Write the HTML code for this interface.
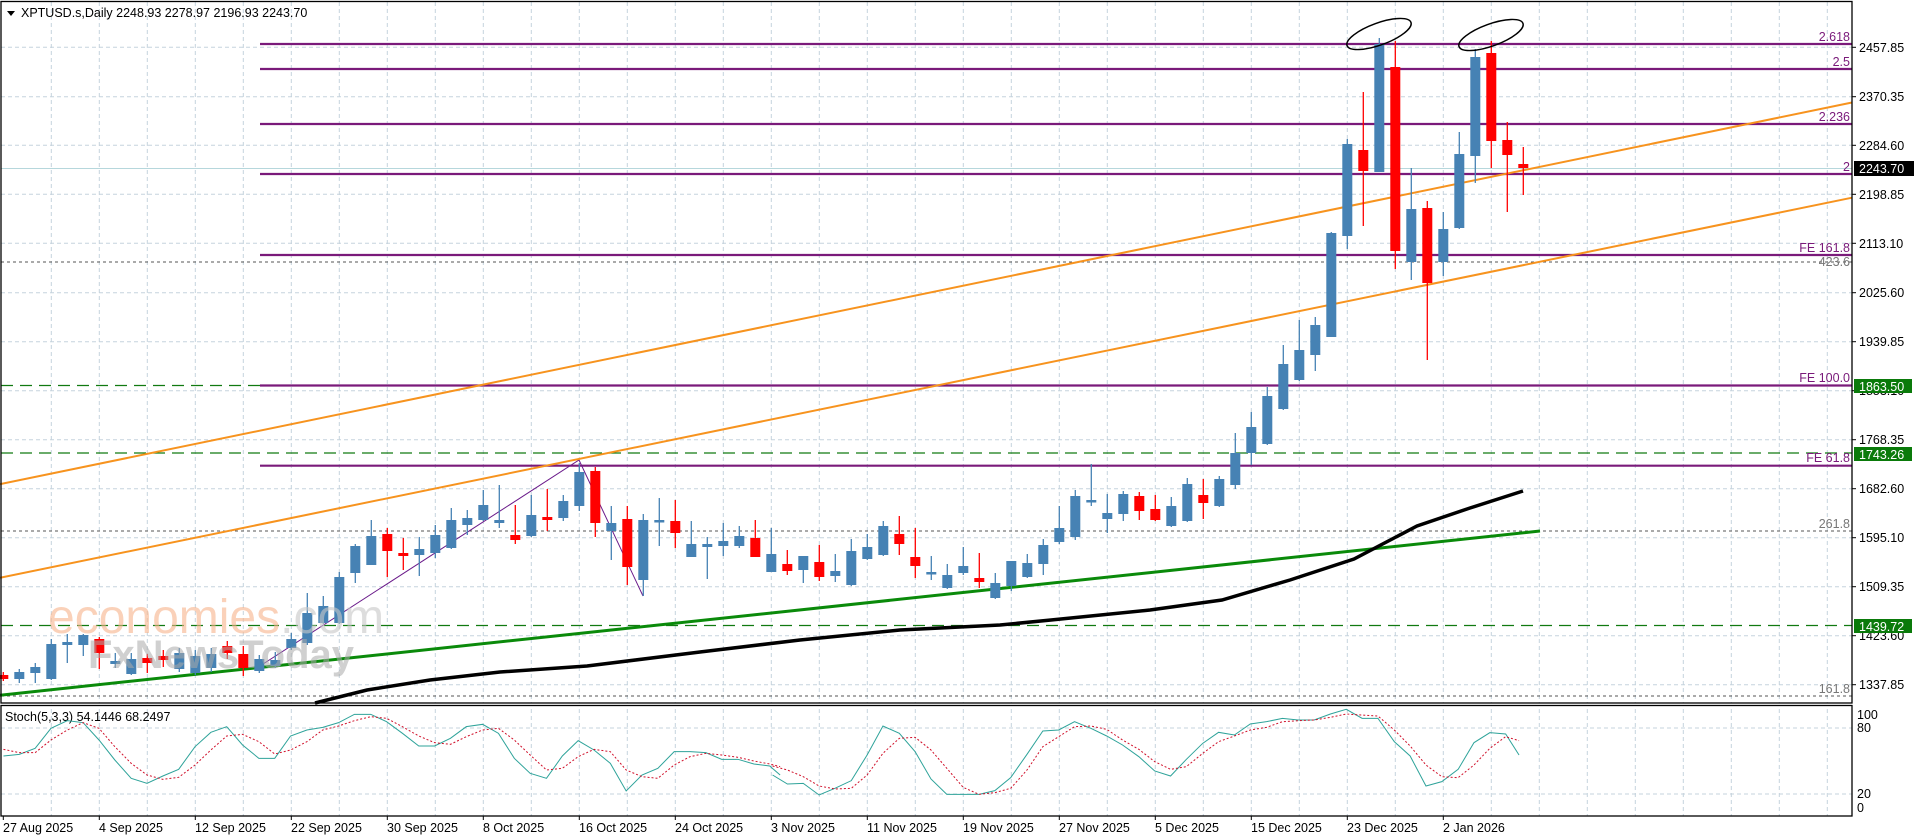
<!DOCTYPE html>
<html><head><meta charset="utf-8"><style>
html,body{margin:0;padding:0;background:#fff;}
svg{display:block;font-family:"Liberation Sans",sans-serif;}
</style></head><body>
<svg width="1916" height="840" viewBox="0 0 1916 840" xmlns="http://www.w3.org/2000/svg">
<rect width="1916" height="840" fill="#fff"/>
<!-- grid -->
<g stroke="#c5d3dd" stroke-width="1" stroke-dasharray="4,3">
<line x1="1" x2="1852" y1="47.3" y2="47.3"/><line x1="1" x2="1852" y1="96.7" y2="96.7"/><line x1="1" x2="1852" y1="145.3" y2="145.3"/><line x1="1" x2="1852" y1="194.3" y2="194.3"/><line x1="1" x2="1852" y1="243.3" y2="243.3"/><line x1="1" x2="1852" y1="292.7" y2="292.7"/><line x1="1" x2="1852" y1="341.7" y2="341.7"/><line x1="1" x2="1852" y1="390.7" y2="390.7"/><line x1="1" x2="1852" y1="439.7" y2="439.7"/><line x1="1" x2="1852" y1="488.7" y2="488.7"/><line x1="1" x2="1852" y1="537.7" y2="537.7"/><line x1="1" x2="1852" y1="586.7" y2="586.7"/><line x1="1" x2="1852" y1="635.7" y2="635.7"/><line x1="1" x2="1852" y1="684.7" y2="684.7"/>
<line x1="1" x2="1852" y1="728" y2="728"/><line x1="1" x2="1852" y1="794" y2="794"/>
</g>
<g stroke="#c5d3dd" stroke-width="1" stroke-dasharray="4,3" id="vg">
<line x1="51.3" x2="51.3" y1="2" y2="816"/><line x1="99.3" x2="99.3" y1="2" y2="816"/><line x1="147.3" x2="147.3" y1="2" y2="816"/><line x1="195.3" x2="195.3" y1="2" y2="816"/><line x1="243.3" x2="243.3" y1="2" y2="816"/><line x1="291.3" x2="291.3" y1="2" y2="816"/><line x1="339.3" x2="339.3" y1="2" y2="816"/><line x1="387.3" x2="387.3" y1="2" y2="816"/><line x1="435.3" x2="435.3" y1="2" y2="816"/><line x1="483.3" x2="483.3" y1="2" y2="816"/><line x1="531.3" x2="531.3" y1="2" y2="816"/><line x1="579.3" x2="579.3" y1="2" y2="816"/><line x1="627.3" x2="627.3" y1="2" y2="816"/><line x1="675.3" x2="675.3" y1="2" y2="816"/><line x1="723.3" x2="723.3" y1="2" y2="816"/><line x1="771.3" x2="771.3" y1="2" y2="816"/><line x1="819.3" x2="819.3" y1="2" y2="816"/><line x1="867.3" x2="867.3" y1="2" y2="816"/><line x1="915.3" x2="915.3" y1="2" y2="816"/><line x1="963.3" x2="963.3" y1="2" y2="816"/><line x1="1011.3" x2="1011.3" y1="2" y2="816"/><line x1="1059.3" x2="1059.3" y1="2" y2="816"/><line x1="1107.3" x2="1107.3" y1="2" y2="816"/><line x1="1155.3" x2="1155.3" y1="2" y2="816"/><line x1="1203.3" x2="1203.3" y1="2" y2="816"/><line x1="1251.3" x2="1251.3" y1="2" y2="816"/><line x1="1299.3" x2="1299.3" y1="2" y2="816"/><line x1="1347.3" x2="1347.3" y1="2" y2="816"/><line x1="1395.3" x2="1395.3" y1="2" y2="816"/><line x1="1443.3" x2="1443.3" y1="2" y2="816"/><line x1="1491.3" x2="1491.3" y1="2" y2="816"/><line x1="1539.3" x2="1539.3" y1="2" y2="816"/><line x1="1587.3" x2="1587.3" y1="2" y2="816"/><line x1="1635.3" x2="1635.3" y1="2" y2="816"/><line x1="1683.3" x2="1683.3" y1="2" y2="816"/><line x1="1731.3" x2="1731.3" y1="2" y2="816"/><line x1="1779.3" x2="1779.3" y1="2" y2="816"/><line x1="1827.3" x2="1827.3" y1="2" y2="816"/>
</g>
<rect x="0" y="703" width="1852" height="2" fill="#fff"/>

<!-- current price line -->
<line x1="1" x2="1852" y1="168.5" y2="168.5" stroke="#b6d7dc" stroke-width="1"/>
<!-- dotted fib lines -->
<g stroke="#555" stroke-width="1" stroke-dasharray="3,3">
<line x1="1" x2="1852" y1="262" y2="262"/><line x1="1" x2="1852" y1="531" y2="531"/><line x1="1" x2="1852" y1="696" y2="696"/>
</g>
<!-- green dashed -->
<g stroke="#117a11" stroke-width="1.3" stroke-dasharray="12,7">
<line x1="1" x2="1852" y1="385.5" y2="385.5"/><line x1="1" x2="1852" y1="453" y2="453"/><line x1="1" x2="1852" y1="625.5" y2="625.5"/>
</g>
<!-- purple fib levels -->
<g stroke="#7a1a7a" stroke-width="2.2">
<line x1="260" x2="1852" y1="44" y2="44"/><line x1="260" x2="1852" y1="69" y2="69"/><line x1="260" x2="1852" y1="124" y2="124"/><line x1="260" x2="1852" y1="174" y2="174"/><line x1="260" x2="1852" y1="255" y2="255"/><line x1="260" x2="1852" y1="385.5" y2="385.5"/><line x1="260" x2="1852" y1="465.7" y2="465.7"/>
</g>
<g fill="#7a1a7a" font-size="12.5" text-anchor="end">
<text x="1850" y="41">2.618</text><text x="1850" y="66">2.5</text><text x="1850" y="121">2.236</text><text x="1850" y="171">2</text><text x="1850" y="252">FE 161.8</text><text x="1850" y="382">FE 100.0</text><text x="1850" y="462">FE 61.8</text>
</g>
<g fill="#777" font-size="12.5" text-anchor="end">
<text x="1850" y="266">423.6</text><text x="1850" y="528">261.8</text><text x="1850" y="693">161.8</text>
</g>
<!-- zigzag -->
<polyline points="260,666 579,460 643,596" fill="none" stroke="#6a1a8a" stroke-width="1"/>
<!-- orange channel -->
<line x1="0" y1="484.2" x2="1852" y2="102.5" stroke="#f7931e" stroke-width="2"/>
<line x1="0" y1="577.8" x2="1852" y2="197.7" stroke="#f7931e" stroke-width="2"/>
<!-- green trend -->
<line x1="0" y1="695.2" x2="1540" y2="531" stroke="#0a8a0a" stroke-width="3"/>
<!-- black MA -->
<polyline points="315,703 367,690 430,680 500,672 587,666 700,652 800,640 900,630 1000,625 1051,620 1150,610 1222,600 1290,580 1354,559 1417,526 1470,508 1523,491" fill="none" stroke="#000" stroke-width="3.5"/>

<!-- candles -->
<g id="c" stroke-width="1.3">
<line x1="3.3" x2="3.3" y1="672" y2="681" stroke="#f00"/><rect x="-1.7" y="675" width="10" height="4" fill="#f00"/>
<line x1="19.3" x2="19.3" y1="669" y2="683" stroke="#4682b4"/><rect x="14.3" y="672" width="10" height="7" fill="#4682b4"/>
<line x1="35.3" x2="35.3" y1="663" y2="683" stroke="#4682b4"/><rect x="30.3" y="667" width="10" height="6" fill="#4682b4"/>
<line x1="51.3" x2="51.3" y1="639" y2="680" stroke="#4682b4"/><rect x="46.3" y="644" width="10" height="35" fill="#4682b4"/>
<line x1="67.3" x2="67.3" y1="634" y2="663" stroke="#4682b4"/><rect x="62.3" y="642" width="10" height="3" fill="#4682b4"/>
<line x1="83.3" x2="83.3" y1="634" y2="656" stroke="#4682b4"/><rect x="78.3" y="635" width="10" height="10" fill="#4682b4"/>
<line x1="99.3" x2="99.3" y1="637" y2="669" stroke="#f00"/><rect x="94.3" y="639" width="10" height="14" fill="#f00"/>
<line x1="115.3" x2="115.3" y1="653" y2="668" stroke="#4682b4"/><rect x="110.3" y="661" width="10" height="3" fill="#4682b4"/>
<line x1="131.3" x2="131.3" y1="653" y2="675" stroke="#4682b4"/><rect x="126.3" y="659" width="10" height="15" fill="#4682b4"/>
<line x1="147.3" x2="147.3" y1="654" y2="673" stroke="#f00"/><rect x="142.3" y="658" width="10" height="5" fill="#f00"/>
<line x1="163.3" x2="163.3" y1="650" y2="667" stroke="#f00"/><rect x="158.3" y="656" width="10" height="4" fill="#f00"/>
<line x1="179.3" x2="179.3" y1="648" y2="672" stroke="#4682b4"/><rect x="174.3" y="653" width="10" height="16" fill="#4682b4"/>
<line x1="195.3" x2="195.3" y1="650" y2="675" stroke="#4682b4"/><rect x="190.3" y="656" width="10" height="17" fill="#4682b4"/>
<line x1="211.3" x2="211.3" y1="648" y2="672" stroke="#4682b4"/><rect x="206.3" y="654" width="10" height="14" fill="#4682b4"/>
<line x1="227.3" x2="227.3" y1="641" y2="659" stroke="#f00"/><rect x="222.3" y="646" width="10" height="7" fill="#f00"/>
<line x1="243.3" x2="243.3" y1="646" y2="676" stroke="#f00"/><rect x="238.3" y="654" width="10" height="14" fill="#f00"/>
<line x1="259.3" x2="259.3" y1="655" y2="673" stroke="#4682b4"/><rect x="254.3" y="659" width="10" height="12" fill="#4682b4"/>
<line x1="275.3" x2="275.3" y1="652" y2="668" stroke="#4682b4"/><rect x="270.3" y="660" width="10" height="6" fill="#4682b4"/>
<line x1="291.3" x2="291.3" y1="633" y2="650" stroke="#4682b4"/><rect x="286.3" y="639" width="10" height="9" fill="#4682b4"/>
<line x1="307.3" x2="307.3" y1="593" y2="645" stroke="#4682b4"/><rect x="302.3" y="613" width="10" height="30" fill="#4682b4"/>
<line x1="323.3" x2="323.3" y1="596" y2="624" stroke="#4682b4"/><rect x="318.3" y="606" width="10" height="17" fill="#4682b4"/>
<line x1="339.3" x2="339.3" y1="572" y2="624" stroke="#4682b4"/><rect x="334.3" y="577" width="10" height="46" fill="#4682b4"/>
<line x1="355.3" x2="355.3" y1="544" y2="583" stroke="#4682b4"/><rect x="350.3" y="546" width="10" height="27" fill="#4682b4"/>
<line x1="371.3" x2="371.3" y1="520" y2="565" stroke="#4682b4"/><rect x="366.3" y="536" width="10" height="29" fill="#4682b4"/>
<line x1="387.3" x2="387.3" y1="528" y2="577" stroke="#f00"/><rect x="382.3" y="534" width="10" height="17" fill="#f00"/>
<line x1="403.3" x2="403.3" y1="538" y2="570" stroke="#f00"/><rect x="398.3" y="553" width="10" height="3" fill="#f00"/>
<line x1="419.3" x2="419.3" y1="537" y2="576" stroke="#4682b4"/><rect x="414.3" y="549" width="10" height="6" fill="#4682b4"/>
<line x1="435.3" x2="435.3" y1="525" y2="558" stroke="#4682b4"/><rect x="430.3" y="535" width="10" height="18" fill="#4682b4"/>
<line x1="451.3" x2="451.3" y1="508" y2="549" stroke="#4682b4"/><rect x="446.3" y="520" width="10" height="28" fill="#4682b4"/>
<line x1="467.3" x2="467.3" y1="510" y2="535" stroke="#4682b4"/><rect x="462.3" y="518" width="10" height="7" fill="#4682b4"/>
<line x1="483.3" x2="483.3" y1="490" y2="521" stroke="#4682b4"/><rect x="478.3" y="505" width="10" height="15" fill="#4682b4"/>
<line x1="499.3" x2="499.3" y1="485" y2="528" stroke="#4682b4"/><rect x="494.3" y="520" width="10" height="3" fill="#4682b4"/>
<line x1="515.3" x2="515.3" y1="505" y2="544" stroke="#f00"/><rect x="510.3" y="535" width="10" height="5" fill="#f00"/>
<line x1="531.3" x2="531.3" y1="495" y2="537" stroke="#4682b4"/><rect x="526.3" y="515" width="10" height="21" fill="#4682b4"/>
<line x1="547.3" x2="547.3" y1="489" y2="531" stroke="#f00"/><rect x="542.3" y="517" width="10" height="3" fill="#f00"/>
<line x1="563.3" x2="563.3" y1="495" y2="521" stroke="#4682b4"/><rect x="558.3" y="501" width="10" height="17" fill="#4682b4"/>
<line x1="579.3" x2="579.3" y1="463" y2="511" stroke="#4682b4"/><rect x="574.3" y="472" width="10" height="34" fill="#4682b4"/>
<line x1="595.3" x2="595.3" y1="467" y2="537" stroke="#f00"/><rect x="590.3" y="471" width="10" height="52" fill="#f00"/>
<line x1="611.3" x2="611.3" y1="506" y2="560" stroke="#4682b4"/><rect x="606.3" y="523" width="10" height="8" fill="#4682b4"/>
<line x1="627.3" x2="627.3" y1="506" y2="585" stroke="#f00"/><rect x="622.3" y="519" width="10" height="48" fill="#f00"/>
<line x1="643.3" x2="643.3" y1="514" y2="596" stroke="#4682b4"/><rect x="638.3" y="520" width="10" height="60" fill="#4682b4"/>
<line x1="659.3" x2="659.3" y1="498" y2="546" stroke="#4682b4"/><rect x="654.3" y="520" width="10" height="2.5" fill="#4682b4"/>
<line x1="675.3" x2="675.3" y1="500" y2="548" stroke="#f00"/><rect x="670.3" y="521" width="10" height="12" fill="#f00"/>
<line x1="691.3" x2="691.3" y1="521" y2="557" stroke="#4682b4"/><rect x="686.3" y="544" width="10" height="13" fill="#4682b4"/>
<line x1="707.3" x2="707.3" y1="537" y2="579" stroke="#4682b4"/><rect x="702.3" y="544" width="10" height="3" fill="#4682b4"/>
<line x1="723.3" x2="723.3" y1="523" y2="556" stroke="#4682b4"/><rect x="718.3" y="541" width="10" height="5" fill="#4682b4"/>
<line x1="739.3" x2="739.3" y1="526" y2="548" stroke="#4682b4"/><rect x="734.3" y="536" width="10" height="10" fill="#4682b4"/>
<line x1="755.3" x2="755.3" y1="520" y2="557" stroke="#f00"/><rect x="750.3" y="538" width="10" height="19" fill="#f00"/>
<line x1="771.3" x2="771.3" y1="528" y2="572" stroke="#4682b4"/><rect x="766.3" y="554" width="10" height="18" fill="#4682b4"/>
<line x1="787.3" x2="787.3" y1="550" y2="575" stroke="#f00"/><rect x="782.3" y="564" width="10" height="7" fill="#f00"/>
<line x1="803.3" x2="803.3" y1="556" y2="583" stroke="#4682b4"/><rect x="798.3" y="556" width="10" height="14" fill="#4682b4"/>
<line x1="819.3" x2="819.3" y1="545" y2="581" stroke="#f00"/><rect x="814.3" y="562" width="10" height="15" fill="#f00"/>
<line x1="835.3" x2="835.3" y1="554" y2="582" stroke="#4682b4"/><rect x="830.3" y="571" width="10" height="5" fill="#4682b4"/>
<line x1="851.3" x2="851.3" y1="539" y2="586" stroke="#4682b4"/><rect x="846.3" y="551" width="10" height="34" fill="#4682b4"/>
<line x1="867.3" x2="867.3" y1="534" y2="560" stroke="#4682b4"/><rect x="862.3" y="547" width="10" height="12" fill="#4682b4"/>
<line x1="883.3" x2="883.3" y1="521" y2="556" stroke="#4682b4"/><rect x="878.3" y="526" width="10" height="29" fill="#4682b4"/>
<line x1="899.3" x2="899.3" y1="516" y2="555" stroke="#f00"/><rect x="894.3" y="534" width="10" height="10" fill="#f00"/>
<line x1="915.3" x2="915.3" y1="528" y2="578" stroke="#f00"/><rect x="910.3" y="557" width="10" height="9" fill="#f00"/>
<line x1="931.3" x2="931.3" y1="556" y2="580" stroke="#4682b4"/><rect x="926.3" y="572" width="10" height="2.5" fill="#4682b4"/>
<line x1="947.3" x2="947.3" y1="564" y2="589" stroke="#4682b4"/><rect x="942.3" y="575" width="10" height="13" fill="#4682b4"/>
<line x1="963.3" x2="963.3" y1="547" y2="575" stroke="#4682b4"/><rect x="958.3" y="566" width="10" height="7" fill="#4682b4"/>
<line x1="979.3" x2="979.3" y1="553" y2="588" stroke="#f00"/><rect x="974.3" y="578" width="10" height="4" fill="#f00"/>
<line x1="995.3" x2="995.3" y1="573" y2="599" stroke="#4682b4"/><rect x="990.3" y="583" width="10" height="15" fill="#4682b4"/>
<line x1="1011.3" x2="1011.3" y1="561" y2="591" stroke="#4682b4"/><rect x="1006.3" y="561" width="10" height="25" fill="#4682b4"/>
<line x1="1027.3" x2="1027.3" y1="554" y2="578" stroke="#4682b4"/><rect x="1022.3" y="563" width="10" height="14" fill="#4682b4"/>
<line x1="1043.3" x2="1043.3" y1="539" y2="575" stroke="#4682b4"/><rect x="1038.3" y="545" width="10" height="19" fill="#4682b4"/>
<line x1="1059.3" x2="1059.3" y1="506" y2="544" stroke="#4682b4"/><rect x="1054.3" y="528" width="10" height="14" fill="#4682b4"/>
<line x1="1075.3" x2="1075.3" y1="490" y2="540" stroke="#4682b4"/><rect x="1070.3" y="496" width="10" height="41" fill="#4682b4"/>
<line x1="1091.3" x2="1091.3" y1="464" y2="506" stroke="#4682b4"/><rect x="1086.3" y="500" width="10" height="2.5" fill="#4682b4"/>
<line x1="1107.3" x2="1107.3" y1="494" y2="533" stroke="#4682b4"/><rect x="1102.3" y="513" width="10" height="6" fill="#4682b4"/>
<line x1="1123.3" x2="1123.3" y1="491" y2="521" stroke="#4682b4"/><rect x="1118.3" y="494" width="10" height="20" fill="#4682b4"/>
<line x1="1139.3" x2="1139.3" y1="492" y2="520" stroke="#f00"/><rect x="1134.3" y="496" width="10" height="15" fill="#f00"/>
<line x1="1155.3" x2="1155.3" y1="495" y2="521" stroke="#f00"/><rect x="1150.3" y="509" width="10" height="11" fill="#f00"/>
<line x1="1171.3" x2="1171.3" y1="497" y2="527" stroke="#4682b4"/><rect x="1166.3" y="506" width="10" height="20" fill="#4682b4"/>
<line x1="1187.3" x2="1187.3" y1="478" y2="522" stroke="#4682b4"/><rect x="1182.3" y="484" width="10" height="37" fill="#4682b4"/>
<line x1="1203.3" x2="1203.3" y1="479" y2="519" stroke="#f00"/><rect x="1198.3" y="495" width="10" height="8" fill="#f00"/>
<line x1="1219.3" x2="1219.3" y1="476" y2="507" stroke="#4682b4"/><rect x="1214.3" y="479" width="10" height="27" fill="#4682b4"/>
<line x1="1235.3" x2="1235.3" y1="433" y2="489" stroke="#4682b4"/><rect x="1230.3" y="453" width="10" height="32" fill="#4682b4"/>
<line x1="1251.3" x2="1251.3" y1="412" y2="465" stroke="#4682b4"/><rect x="1246.3" y="427" width="10" height="26" fill="#4682b4"/>
<line x1="1267.3" x2="1267.3" y1="387" y2="445" stroke="#4682b4"/><rect x="1262.3" y="396" width="10" height="48" fill="#4682b4"/>
<line x1="1283.3" x2="1283.3" y1="345" y2="410" stroke="#4682b4"/><rect x="1278.3" y="364" width="10" height="45" fill="#4682b4"/>
<line x1="1299.3" x2="1299.3" y1="320" y2="381" stroke="#4682b4"/><rect x="1294.3" y="350" width="10" height="30" fill="#4682b4"/>
<line x1="1315.3" x2="1315.3" y1="317" y2="371" stroke="#4682b4"/><rect x="1310.3" y="325" width="10" height="30" fill="#4682b4"/>
<line x1="1331.3" x2="1331.3" y1="232" y2="337" stroke="#4682b4"/><rect x="1326.3" y="233" width="10" height="104" fill="#4682b4"/>
<line x1="1347.3" x2="1347.3" y1="139" y2="249" stroke="#4682b4"/><rect x="1342.3" y="144" width="10" height="92" fill="#4682b4"/>
<line x1="1363.3" x2="1363.3" y1="92" y2="226" stroke="#f00"/><rect x="1358.3" y="150" width="10" height="21" fill="#f00"/>
<line x1="1379.3" x2="1379.3" y1="38" y2="172" stroke="#4682b4"/><rect x="1374.3" y="44" width="10" height="128" fill="#4682b4"/>
<line x1="1395.3" x2="1395.3" y1="41" y2="269" stroke="#f00"/><rect x="1390.3" y="67" width="10" height="184" fill="#f00"/>
<line x1="1411.3" x2="1411.3" y1="168" y2="280" stroke="#4682b4"/><rect x="1406.3" y="209" width="10" height="53" fill="#4682b4"/>
<line x1="1427.3" x2="1427.3" y1="201" y2="360" stroke="#f00"/><rect x="1422.3" y="208" width="10" height="75" fill="#f00"/>
<line x1="1443.3" x2="1443.3" y1="212" y2="276" stroke="#4682b4"/><rect x="1438.3" y="229" width="10" height="33" fill="#4682b4"/>
<line x1="1459.3" x2="1459.3" y1="132" y2="229" stroke="#4682b4"/><rect x="1454.3" y="154" width="10" height="74" fill="#4682b4"/>
<line x1="1475.3" x2="1475.3" y1="49" y2="183" stroke="#4682b4"/><rect x="1470.3" y="57" width="10" height="99" fill="#4682b4"/>
<line x1="1491.3" x2="1491.3" y1="41" y2="168" stroke="#f00"/><rect x="1486.3" y="53" width="10" height="88" fill="#f00"/>
<line x1="1507.3" x2="1507.3" y1="122" y2="212" stroke="#f00"/><rect x="1502.3" y="140" width="10" height="15" fill="#f00"/>
<line x1="1523.3" x2="1523.3" y1="147" y2="195" stroke="#f00"/><rect x="1518.3" y="164" width="10" height="4" fill="#f00"/>
</g>
<!-- ellipses -->
<ellipse cx="1379" cy="34" rx="34" ry="11" transform="rotate(-20 1379 34)" fill="none" stroke="#000" stroke-width="1.5"/>
<ellipse cx="1491" cy="35" rx="34" ry="11" transform="rotate(-20 1491 35)" fill="none" stroke="#000" stroke-width="1.5"/>
<!-- watermark -->
<text x="48" y="633" font-size="48" fill="#f8b48c" opacity="0.6">economies<tspan fill="#c8c8c8">.com</tspan></text>
<text x="88" y="668" font-size="40" font-weight="bold" fill="#aaa" opacity="0.55">FxNewsToday</text>

<!-- title -->
<path d="M7,11 L15,11 L11,16 Z" fill="#000"/>
<text x="21" y="17" font-size="12.5" fill="#000">XPTUSD.s,Daily  2248.93 2278.97 2196.93 2243.70</text>

<!-- stochastic -->
<text x="5" y="721" font-size="12.5" fill="#000">Stoch(5,3,3) 54.1446 68.2497</text>
<g transform="translate(0,700) scale(0.495,0.3333)" fill="none">
<polyline vector-effect="non-scaling-stroke" stroke="#2ea39a" stroke-width="1" points="7,168 39,163 71,145 103,85 136,62 168,68 200,120 232,180 265,235 297,250 329,228 361,208 394,140 426,97 458,80 490,135 523,175 555,175 587,108 620,90 652,82 684,68 716,43 749,43 781,65 813,100 846,138 878,138 910,115 942,80 975,73 1007,100 1039,175 1071,220 1104,235 1136,168 1168,122 1200,150 1233,190 1265,273 1297,225 1329,205 1362,155 1394,155 1426,158 1458,178 1491,178 1523,192 1555,198 1576,225"/>
<polyline vector-effect="non-scaling-stroke" stroke="#d0102a" stroke-width="1" stroke-dasharray="2,2" points="7,148 39,158 71,158 103,120 136,90 168,68 200,85 232,140 265,190 297,225 329,238 361,232 394,195 426,150 458,108 490,103 523,125 555,162 587,150 620,125 652,90 684,78 716,62 749,50 781,55 813,80 846,108 878,128 910,133 942,110 975,90 1007,85 1039,120 1071,165 1104,210 1136,205 1168,170 1200,148 1233,155 1265,210 1297,230 1329,235 1362,195 1394,170 1426,160 1458,165 1491,172 1523,183 1555,192 1576,200"/>
</g>
<g transform="translate(780,700) scale(0.495,0.3333)" fill="none">
<polyline vector-effect="non-scaling-stroke" stroke="#2ea39a" stroke-width="1" points="-15,225 15,252 47,250 79,285 111,265 144,242 176,165 208,78 241,100 273,155 305,237 337,283 370,283 402,283 434,272 466,233 499,163 531,93 563,90 595,65 628,85 660,108 692,135 725,170 757,213 789,228 821,178 854,130 886,97 918,105 950,72 983,65 1015,55 1047,60 1079,60 1112,42 1144,28 1176,55 1208,55 1241,125 1273,168 1305,258 1337,245 1370,208 1402,128 1434,98 1466,102 1493,165"/>
<polyline vector-effect="non-scaling-stroke" stroke="#d0102a" stroke-width="1" stroke-dasharray="2,2" points="-15,198 15,210 47,230 79,258 111,267 144,265 176,225 208,160 241,115 273,112 305,150 337,205 370,262 402,283 434,278 466,265 499,210 531,140 563,110 595,80 628,78 660,88 692,120 725,148 757,185 789,208 821,200 854,160 886,125 918,108 950,90 983,82 1015,65 1047,62 1079,60 1112,52 1144,42 1176,45 1208,48 1241,90 1273,138 1305,195 1337,230 1370,233 1402,195 1434,145 1466,110 1493,122"/>
</g>

<!-- frames -->
<rect x="1" y="1.5" width="1851" height="701.5" fill="none" stroke="#000" stroke-width="1.3"/>
<rect x="1" y="705.5" width="1851" height="110.5" fill="none" stroke="#000" stroke-width="1.3"/>

<!-- right axis -->
<g stroke="#000" stroke-width="1">
<line x1="1852" x2="1856" y1="47.3" y2="47.3"/><line x1="1852" x2="1856" y1="96.7" y2="96.7"/><line x1="1852" x2="1856" y1="145.3" y2="145.3"/><line x1="1852" x2="1856" y1="194.3" y2="194.3"/><line x1="1852" x2="1856" y1="243.3" y2="243.3"/><line x1="1852" x2="1856" y1="292.7" y2="292.7"/><line x1="1852" x2="1856" y1="341.7" y2="341.7"/><line x1="1852" x2="1856" y1="390.7" y2="390.7"/><line x1="1852" x2="1856" y1="439.7" y2="439.7"/><line x1="1852" x2="1856" y1="488.7" y2="488.7"/><line x1="1852" x2="1856" y1="537.7" y2="537.7"/><line x1="1852" x2="1856" y1="586.7" y2="586.7"/><line x1="1852" x2="1856" y1="635.7" y2="635.7"/><line x1="1852" x2="1856" y1="684.7" y2="684.7"/>
</g>
<g font-size="12.5" fill="#000">
<text x="1859" y="52">2457.85</text><text x="1859" y="101">2370.35</text><text x="1859" y="150">2284.60</text><text x="1859" y="199">2198.85</text><text x="1859" y="248">2113.10</text><text x="1859" y="297">2025.60</text><text x="1859" y="346">1939.85</text><text x="1859" y="395">1853.10</text><text x="1859" y="444">1768.35</text><text x="1859" y="493">1682.60</text><text x="1859" y="542">1595.10</text><text x="1859" y="591">1509.35</text><text x="1859" y="640">1423.60</text><text x="1859" y="689">1337.85</text>
<text x="1857" y="719">100</text><text x="1857" y="732">80</text><text x="1857" y="798">20</text><text x="1857" y="812">0</text>
</g>
<rect x="1854" y="161" width="60" height="15" fill="#000"/>
<text x="1859" y="173" font-size="12.5" fill="#fff">2243.70</text>
<rect x="1854" y="379" width="58" height="14" fill="#0a7a0a"/>
<text x="1859" y="391" font-size="12.5" fill="#fff">1863.50</text>
<rect x="1854" y="447" width="58" height="14" fill="#0a7a0a"/>
<text x="1859" y="459" font-size="12.5" fill="#fff">1743.26</text>
<rect x="1854" y="619" width="58" height="14" fill="#0a7a0a"/>
<text x="1859" y="631" font-size="12.5" fill="#fff">1439.72</text>

<!-- date axis -->
<g font-size="12.5" fill="#000">
<text x="3" y="832">27 Aug 2025</text><text x="99" y="832">4 Sep 2025</text><text x="195" y="832">12 Sep 2025</text><text x="291" y="832">22 Sep 2025</text><text x="387" y="832">30 Sep 2025</text><text x="483" y="832">8 Oct 2025</text><text x="579" y="832">16 Oct 2025</text><text x="675" y="832">24 Oct 2025</text><text x="771" y="832">3 Nov 2025</text><text x="867" y="832">11 Nov 2025</text><text x="963" y="832">19 Nov 2025</text><text x="1059" y="832">27 Nov 2025</text><text x="1155" y="832">5 Dec 2025</text><text x="1251" y="832">15 Dec 2025</text><text x="1347" y="832">23 Dec 2025</text><text x="1443" y="832">2 Jan 2026</text>
</g>
<g stroke="#000"><line x1="3.3" x2="3.3" y1="816" y2="820"/><line x1="99.3" x2="99.3" y1="816" y2="820"/><line x1="195.3" x2="195.3" y1="816" y2="820"/><line x1="291.3" x2="291.3" y1="816" y2="820"/><line x1="387.3" x2="387.3" y1="816" y2="820"/><line x1="483.3" x2="483.3" y1="816" y2="820"/><line x1="579.3" x2="579.3" y1="816" y2="820"/><line x1="675.3" x2="675.3" y1="816" y2="820"/><line x1="771.3" x2="771.3" y1="816" y2="820"/><line x1="867.3" x2="867.3" y1="816" y2="820"/><line x1="963.3" x2="963.3" y1="816" y2="820"/><line x1="1059.3" x2="1059.3" y1="816" y2="820"/><line x1="1155.3" x2="1155.3" y1="816" y2="820"/><line x1="1251.3" x2="1251.3" y1="816" y2="820"/><line x1="1347.3" x2="1347.3" y1="816" y2="820"/><line x1="1443.3" x2="1443.3" y1="816" y2="820"/></g>
</svg>
</body></html>
